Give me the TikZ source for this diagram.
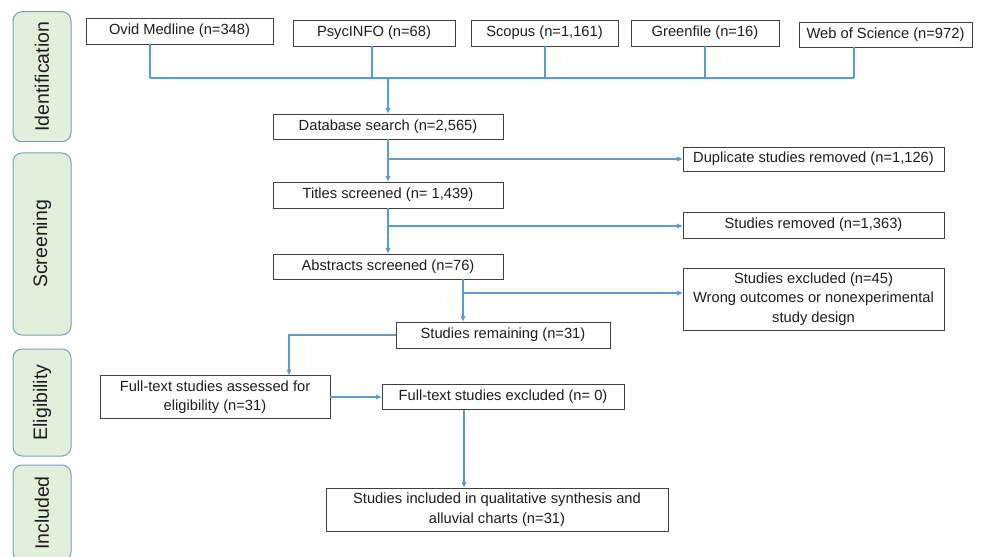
\documentclass[tikz,border=0pt]{standalone}
\usepackage{fontspec}
\setmainfont{Liberation Sans}
\usetikzlibrary{arrows.meta,calc}
\definecolor{flowblue}{HTML}{5B9BD5}
\definecolor{boxgray}{HTML}{404040}
\definecolor{phasefill}{HTML}{E2EFDA}
\definecolor{phaseedge}{HTML}{7F9DBF}
\definecolor{inkgray}{HTML}{1E1E1E}
\begin{document}
\begin{tikzpicture}[x=1pt,y=-1pt,
  box/.style={draw=boxgray,line width=0.9pt,fill=white,inner sep=0pt,align=center,
    text=inkgray,font=\fontsize{14.7}{19.5}\selectfont},
  phase/.style={draw=phaseedge,fill=phasefill,line width=1pt,rounded corners=9pt,
    rotate=90,inner sep=0pt,text=inkgray,font=\fontsize{19.5}{22}\selectfont,
    minimum height=58pt},
  link/.style={draw=flowblue,line width=1.3pt},
  arr/.style={link,-{Triangle[length=5.5pt,width=4.5pt]}}]
\useasboundingbox (0,0) rectangle (981,556);
\clip (0,0) rectangle (981,556);

% phase labels down the left side
\node[phase,minimum width=130pt] (ident)  at (42,76.7)  {Identification};
\node[phase,minimum width=182pt] (screen) at (42,244)   {Screening};
\node[phase,minimum width=107pt] (elig)   at (42,402.5) {Eligibility};
\node[phase,minimum width=96pt]  (incl)   at (42,513)   {Included};

% databases searched
\node[box,minimum width=187pt,minimum height=26pt] (ovid)   at (179.5,31) {Ovid Medline (n=348)};
\node[box,minimum width=162pt,minimum height=26pt] (psyc)   at (374,33)   {PsycINFO (n=68)};
\node[box,minimum width=147pt,minimum height=26pt] (scopus) at (544.5,33) {Scopus (n=1,161)};
\node[box,minimum width=148pt,minimum height=26pt] (green)  at (705,33)   {Greenfile (n=16)};
\node[box,minimum width=173pt,minimum height=25pt] (wos)    at (885.5,34.5) {Web of Science (n=972)};

% main column
\node[box,minimum width=230pt,minimum height=25pt] (db)     at (388,126.5) {Database search (n=2,565)};
\node[box,minimum width=230pt,minimum height=26pt] (titles) at (388,195)   {Titles screened (n= 1,439)};
\node[box,minimum width=230pt,minimum height=25pt] (abstr)  at (388,266.5) {Abstracts screened (n=76)};
\node[box,minimum width=214pt,minimum height=26pt] (remain) at (503,335)   {Studies remaining (n=31)};
\node[box,minimum width=230pt,minimum height=43pt] (assess) at (215,397)   {Full-text studies assessed for\\eligibility (n=31)};
\node[box,minimum width=242pt,minimum height=25pt] (ftex)   at (503,397)   {Full-text studies excluded (n= 0)};
\node[box,minimum width=342pt,minimum height=43pt] (final)  at (497,509.5) {Studies included in qualitative synthesis and\\alluvial charts (n=31)};

% removals on the right
\node[box,minimum width=261pt,minimum height=24pt] (dup)    at (813.5,159) {Duplicate studies removed (n=1,126)};
\node[box,minimum width=261pt,minimum height=26pt] (rem)    at (813.5,225) {Studies removed (n=1,363)};
\node[box,minimum width=261pt,minimum height=62pt] (excl)   at (813.5,299) {Studies excluded (n=45)\\Wrong outcomes or nonexperimental\\study design};

% joints of the connectors
\coordinate (j1) at (150,78);
\coordinate (j2) at (372,78);
\coordinate (j3) at (545,78);
\coordinate (j4) at (705,78);
\coordinate (j5) at (854,78);
\coordinate (jm) at (388,78);
\coordinate (b1) at (388,159);
\coordinate (b2) at (388,226);
\coordinate (b3) at (463,293);
\coordinate (c1) at (289,335);
\coordinate (c2) at (464,0);

% merge of the database hits
\draw[link] (ovid.south -| j1) -- (j1);
\draw[link] (psyc.south -| j2) -- (j2);
\draw[link] (scopus.south -| j3) -- (j3);
\draw[link] (green.south -| j4) -- (j4);
\draw[link] (wos.south -| j5) -- (j5);
\draw[link] (j1) -- (j5);
\draw[arr] (jm) -- (db.north);

% screening steps
\draw[arr] (db.south) -- (titles.north);
\draw[arr] (b1) -- (b1 -| dup.west);
\draw[arr] (titles.south) -- (abstr.north);
\draw[arr] (b2) -- (b2 -| rem.west);
\draw[arr] (abstr.south -| b3) -- (remain.north -| b3);
\draw[arr] (b3) -- (b3 -| excl.west);

% eligibility and inclusion
\draw[arr] (remain.west) -- (c1) -- (assess.north -| c1);
\draw[arr] (assess.east) -- (ftex.west);
\draw[arr] (ftex.south -| c2) -- (final.north -| c2);
\end{tikzpicture}
\end{document}
